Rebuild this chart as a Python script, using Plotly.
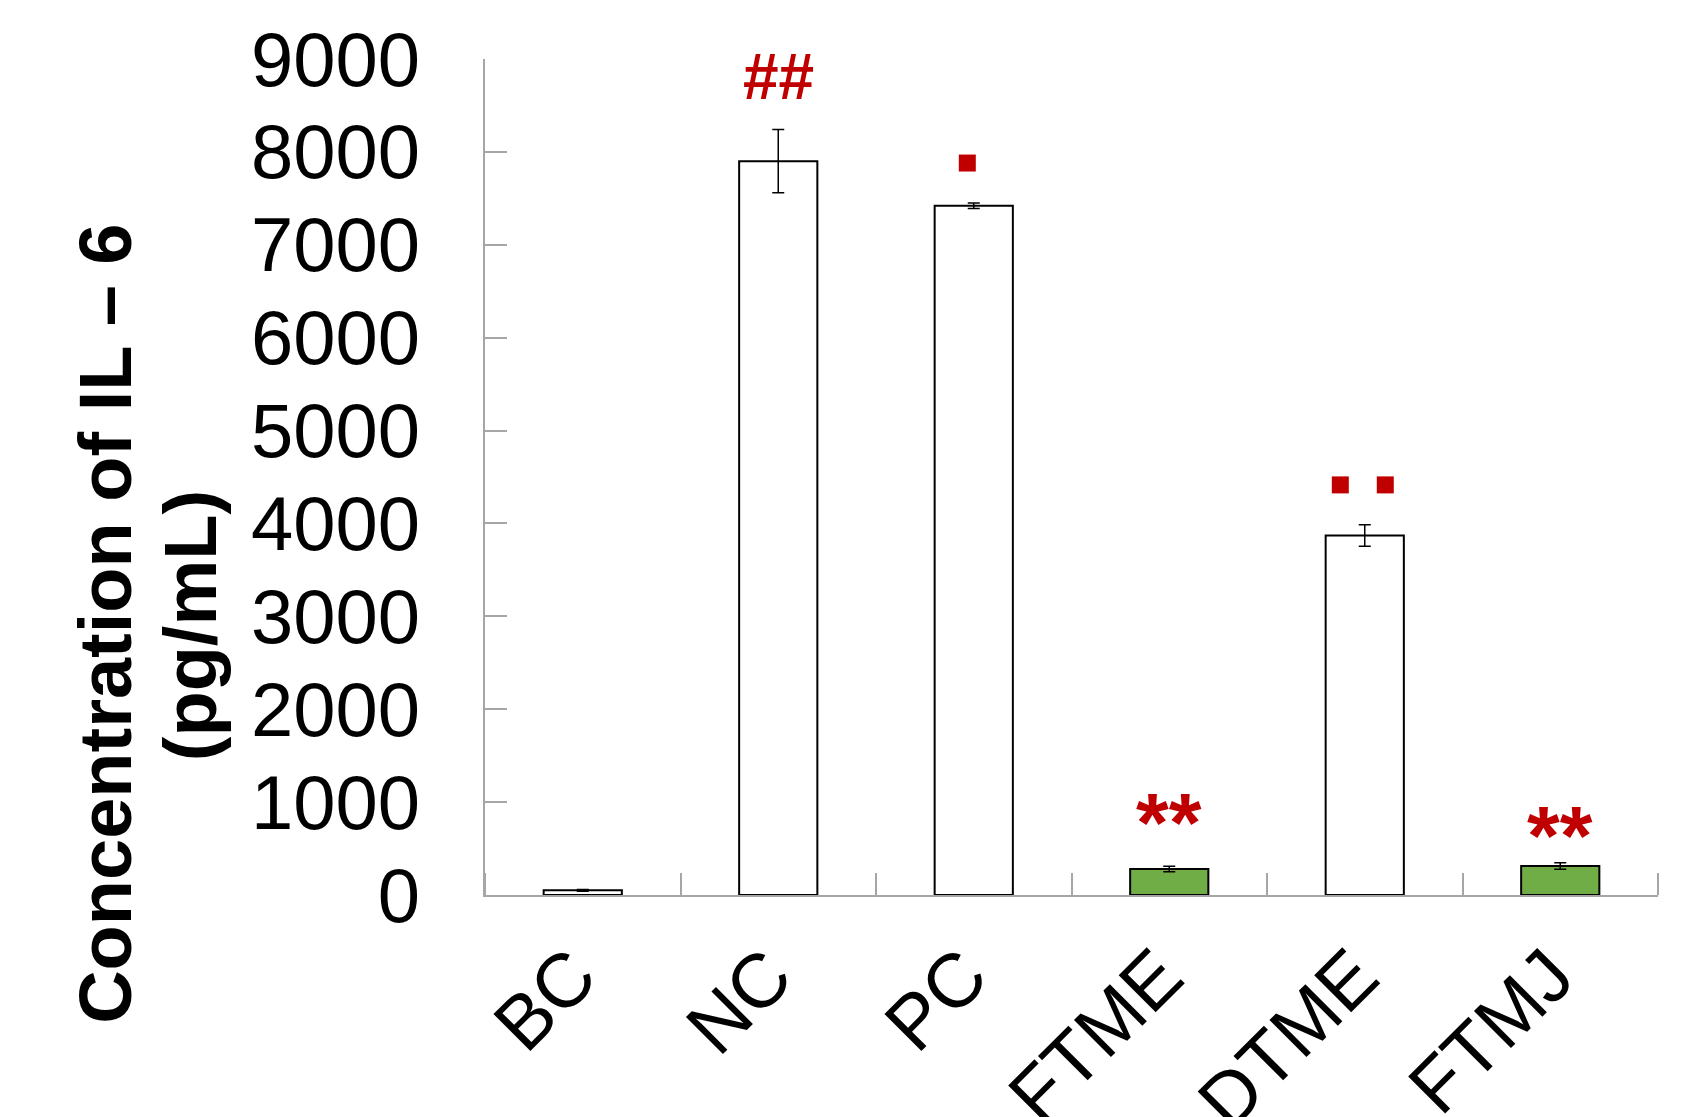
import plotly.graph_objects as go

categories = ["BC", "NC", "PC", "FTME", "DTME", "FTMJ"]
il6_values = [50, 7900, 7420, 280, 3870, 312]
il6_errors = [10, 340, 30, 30, 115, 35]
bar_colors = ["white", "white", "white", "#70AD47", "white", "#70AD47"]
sig_text = ["", "##", "", "**", "", "**"]
sig_shift = [0, 15, 0, -6, 0, -22]  # pixel lift of each mark above its error bar
square_groups = [2, 4, 4]          # categories carrying a red square mark
square_offsets = [-0.033, -0.125, 0.105]
y_ticks = [0, 1000, 2000, 3000, 4000, 5000, 6000, 7000, 8000, 9000]

RED = "#C00000"
GRAY = "#A6A6A6"
FONT = "Arial, Liberation Sans, sans-serif"

xs = list(range(len(categories)))

fig = go.Figure()
fig.add_trace(go.Bar(
    x=xs, y=il6_values,
    marker=dict(color=bar_colors, line=dict(color="black", width=2)),
    error_y=dict(type="data", array=il6_errors, visible=True,
                 color="black", thickness=1.5, width=6),
    width=0.4, showlegend=False,
))

# red square marks
sq_x = [square_groups[i] + square_offsets[i] for i in range(len(square_groups))]
sq_y = [il6_values[g] + il6_errors[g] + 430 for g in square_groups]
fig.add_trace(go.Scatter(
    x=sq_x, y=sq_y, mode="markers",
    marker=dict(symbol="square", size=17, color=RED, line=dict(width=0)),
    showlegend=False, hoverinfo="skip",
))

for i, t in enumerate(sig_text):
    if not t:
        continue
    top = il6_values[i] + il6_errors[i]
    size = 64 if t == "##" else 84
    fig.add_annotation(x=i, y=top, text="<b>" + t + "</b>", showarrow=False,
                       yanchor="bottom", yshift=sig_shift[i],
                       font=dict(family=FONT, size=size, color=RED))

fig.add_annotation(
    xref="paper", yref="paper", x=-0.3242, y=0.324,
    text="<b>Concentration of IL – 6</b>",
    textangle=-90, showarrow=False, xanchor="center", yanchor="middle",
    font=dict(family=FONT, size=74, color="black"),
)
fig.add_annotation(
    xref="paper", yref="paper", x=-0.2508, y=0.3225,
    text="<b>(pg/mL)</b>",
    textangle=-90, showarrow=False, xanchor="center", yanchor="middle",
    font=dict(family=FONT, size=74, color="black"),
)

fig.update_layout(
    width=1701, height=1117,
    margin=dict(l=477, r=51, t=51, b=230, autoexpand=False),
    plot_bgcolor="white", paper_bgcolor="white",
    font=dict(family=FONT, color="black"),
    bargap=0.6,
)
fig.update_xaxes(
    range=[-0.5, 5.5], tickmode="array", tickvals=xs, ticktext=categories,
    tickangle=-45, tickfont=dict(family=FONT, size=76, color="black"),
    ticks="", showline=True, linecolor=GRAY, linewidth=1.5,
    showgrid=False, zeroline=False, ticklabelstandoff=4, ticklabelshift=-9,
    automargin=False,
    minor=dict(tick0=-0.5, dtick=1, ticks="inside", ticklen=22,
               tickcolor=GRAY, tickwidth=1.5, showgrid=False),
)
fig.update_yaxes(
    range=[0, 9000], tickmode="array", tickvals=y_ticks,
    tickfont=dict(family=FONT, size=76, color="black"),
    ticks="inside", ticklen=22, tickcolor=GRAY, tickwidth=1.5,
    showline=True, linecolor=GRAY, linewidth=1.5, automargin=False,
    showgrid=False, zeroline=False, ticklabelstandoff=48,
)

fig.write_html("out.html")
